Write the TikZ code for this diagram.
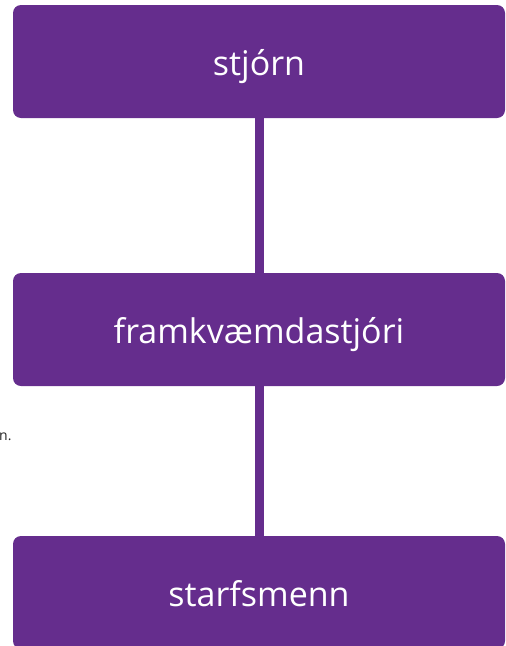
\documentclass[tikz,border=0pt]{standalone}
\usepackage{fontspec}
\setmainfont{Open Sans}
\definecolor{boxpurple}{HTML}{652D8D}
\begin{document}
\begin{tikzpicture}[x=1pt,y=-1pt,
  orgbox/.style={fill=boxpurple,rounded corners=8pt,minimum width=492pt,minimum height=113pt,
    inner sep=0pt,text=white,text height=28pt,text depth=0pt,font=\fontsize{34}{40}\selectfont},
  link/.style={draw=boxpurple,line width=9pt}]
\useasboundingbox (0,0) rectangle (506,646);
\clip (0,0) rectangle (506,646);
\node[orgbox] (top) at (259,61.5) {stjórn};
\node[orgbox] (mid) at (259,329.5) {framkvæmdastjóri};
\node[orgbox] (bot) at (259,592.5) {starfsmenn};
\draw[link] (top.south) -- (mid.north);
\draw[link] (mid.south) -- (bot.north);
\node[anchor=base west,inner sep=0pt,font=\fontsize{14}{17}\selectfont,text=black!85] (frag) at (-1,440) {n.};
\end{tikzpicture}
\end{document}
